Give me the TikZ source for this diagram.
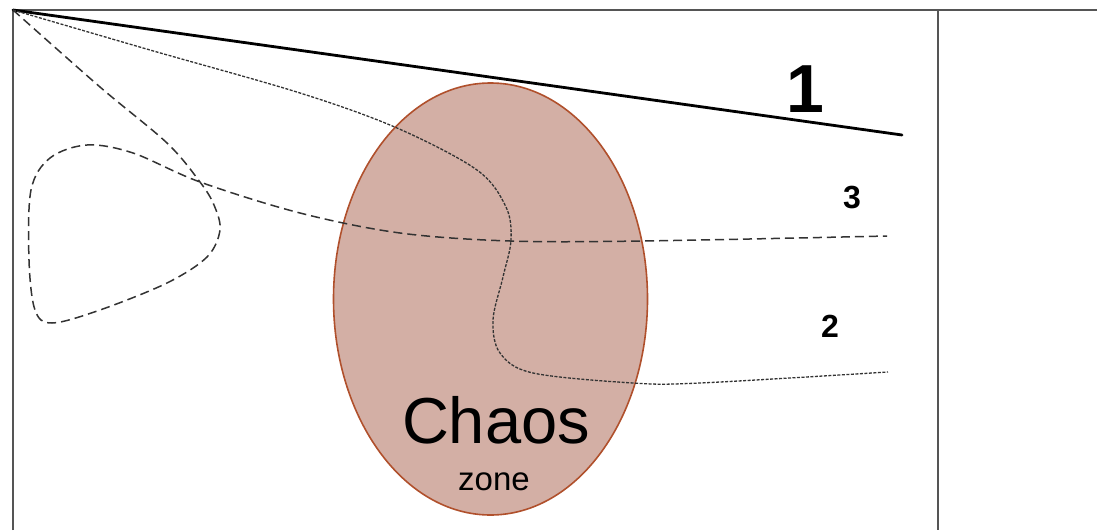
\documentclass[tikz,border=0pt]{standalone}
\usepackage{fontspec}
\setmainfont{Liberation Sans}
\usetikzlibrary{shapes.geometric}
\definecolor{framegray}{HTML}{555555}
\definecolor{chaosfill}{HTML}{D3AFA5}
\definecolor{chaosedge}{HTML}{B0502C}
\definecolor{curvegray}{HTML}{333333}
\begin{document}
\begin{tikzpicture}[x=1pt,y=-1pt,
  frameline/.style={draw=framegray,line width=1.8pt},
  pathone/.style={draw=black,line width=2.8pt},
  paththree/.style={draw=curvegray,line width=1.5pt,dash pattern=on 9pt off 5pt},
  pathtwo/.style={draw=curvegray,line width=1.3pt,dash pattern=on 3pt off 1.5pt},
  zone/.style={ellipse,draw=chaosedge,line width=1.6pt,fill=chaosfill,minimum width=314pt,minimum height=432pt,inner sep=0pt},
  biglabel/.style={font=\fontsize{68}{80}\selectfont\bfseries,anchor=base,inner sep=0pt},
  smalllabel/.style={font=\fontsize{32}{38}\selectfont\bfseries,anchor=base,inner sep=0pt},
  chaostext/.style={font=\fontsize{65}{78}\selectfont,anchor=base,inner sep=0pt},
  zonetext/.style={font=\fontsize{33}{40}\selectfont,anchor=base,inner sep=0pt}]
\useasboundingbox (0,0) rectangle (1097,530);
% frame
\coordinate (O) at (13,10);
\coordinate (TR) at (1097,10);
\coordinate (BL) at (13,530);
\coordinate (DT) at (938,10);
\coordinate (DB) at (938,530);
\draw[frameline] (BL) -- (O) -- (TR);
\draw[frameline] (DT) -- (DB);
% chaos zone
\node[zone] (Z) at (490.5,299) {};
\node[chaostext] (chaos) at (496,443) {Chaos};
\node[zonetext] (zonelbl) at (494,490) {zone};
% curves
\coordinate (E1) at (902,135);
\coordinate (E3) at (887,236);
\coordinate (E2) at (888,372);
\draw[pathone,line cap=round] (O) -- (E1);
\draw[paththree] plot[smooth,tension=0.55] coordinates {(13,10) (100,87) (167,143) (200,182) (214,205) (220,230) (207,257) (167,283) (100,310) (52,323) (35,310) (29,260) (31,190) (50,158) (87,145) (133,153) (200,182) (300,213) (400,233) (510,241) (643,241) (887,236)};
\draw[pathtwo] plot[smooth,tension=0.55] coordinates {(13,10) (150,50) (300,93) (397,128) (477,170) (506,207) (511,240) (503,277) (493,320) (500,353) (533,373) (633,383) (700,383) (888,372)};
% labels
\node[biglabel] (l1) at (805,112) {1};
\node[smalllabel] (l3) at (852,208) {3};
\node[smalllabel] (l2) at (830,337) {2};
\end{tikzpicture}
\end{document}
